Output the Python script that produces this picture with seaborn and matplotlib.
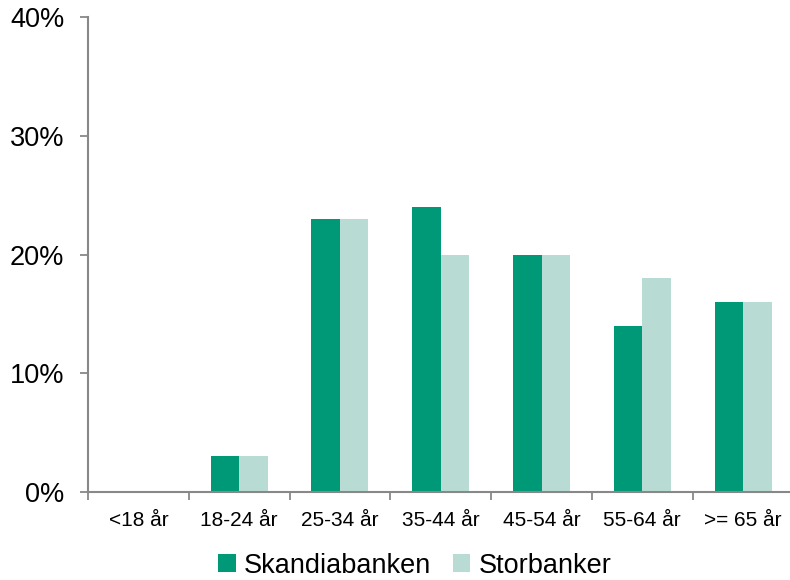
import pandas as pd
import seaborn as sns
import matplotlib.pyplot as plt
from matplotlib.patches import Patch

# values (percent)
age_groups = ['<18 år', '18-24 år', '25-34 år', '35-44 år', '45-54 år', '55-64 år', '>= 65 år']
skandia = [0, 3, 23, 24, 20, 14, 16]
storbanker = [0, 3, 23, 20, 20, 18, 16]
series = ['Skandiabanken', 'Storbanker']
colors = ['#009977', '#B8DCD4']

df = pd.DataFrame({
    'Ålder': age_groups * 2,
    'Andel': skandia + storbanker,
    'Bank': [series[0]] * len(age_groups) + [series[1]] * len(age_groups),
})

sns.set_style('white')
plt.rcParams['font.family'] = ['Liberation Sans', 'DejaVu Sans']
plt.rcParams['text.color'] = 'black'

fig = plt.figure(figsize=(7.9, 5.8), dpi=100)
ax = fig.add_axes([0.1114, 0.1517, 0.893, 0.819])

sns.barplot(data=df, x='Ålder', y='Andel', hue='Bank', palette=colors,
            width=0.565, saturation=1, linewidth=0, ax=ax, legend=False)

ax.set_ylim(0, 40)
ax.set_xlim(-0.5, 6.5)
ax.set_yticks([0, 10, 20, 30, 40])
ax.set_yticklabels([f'{v}%' for v in [0, 10, 20, 30, 40]], fontsize=19.5)
ax.set_xticks(range(len(age_groups)))
ax.set_xticklabels(age_groups, fontsize=15)
ax.set_xticks([i - 0.5 for i in range(len(age_groups) + 1)], minor=True)
ax.tick_params(axis='x', which='major', bottom=True, length=0, pad=14, labelcolor='black')
ax.tick_params(axis='x', which='minor', bottom=True, length=6, width=1.3,
               color='#888888', direction='out')
ax.tick_params(axis='y', left=True, length=6, width=1.3, color='#888888',
               direction='out', pad=11, labelcolor='black')
ax.set_xlabel('')
ax.set_ylabel('')

for side in ['top', 'right']:
    ax.spines[side].set_visible(False)
for side in ['left', 'bottom']:
    ax.spines[side].set_color('#888888')
    ax.spines[side].set_linewidth(1.5)

handles = [Patch(facecolor=c, edgecolor='none') for c in colors]
fig.legend(handles, series, loc='lower center', bbox_to_anchor=(0.525, -0.04), ncol=2,
           frameon=False, fontsize=19.5, handlelength=0.65, handleheight=0.65,
           handletextpad=0.3, columnspacing=0.8)

fig.savefig('out.png', dpi=100)
